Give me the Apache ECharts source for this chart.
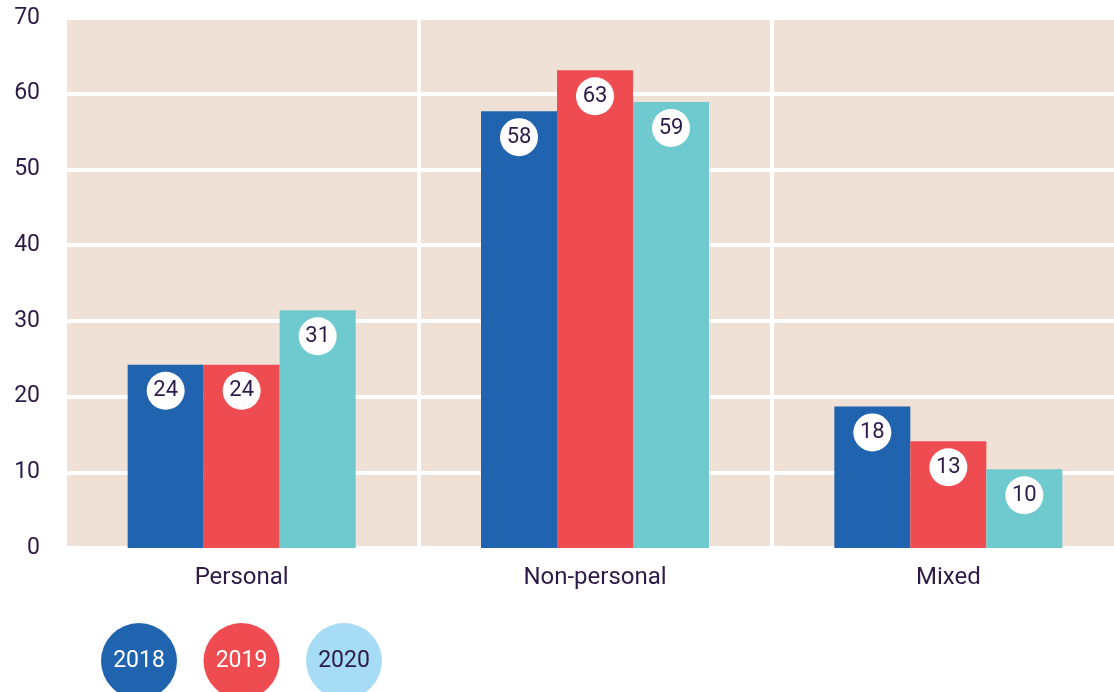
<!DOCTYPE html>
<html>
<head>
<meta charset="utf-8">
<script src="https://cdn.jsdelivr.net/npm/echarts@6/dist/echarts.min.js"></script>
<style>
html,body{margin:0;padding:0;background:#fff;}
#chart{width:1114px;height:692px;}
</style>
</head>
<body>
<div id="chart"></div>
<script>
// Data
const categories = ['Personal', 'Non-personal', 'Mixed'];
const years = ['2018', '2019', '2020'];
const values2018 = [24.2, 57.7, 18.7];
const values2019 = [24.2, 63.1, 14.1];
const values2020 = [31.4, 58.9, 10.4];
const labels2018 = ['24', '58', '18'];
const labels2019 = ['24', '63', '13'];
const labels2020 = ['31', '59', '10'];
const yTicks = [0, 10, 20, 30, 40, 50, 60, 70];

const TEXT = '#2e1a47';
const FONT = 'Roboto';
const barColors = ['#2064b0', '#ef4c51', '#6fcacf'];
const legendColors = ['#2064b0', '#ef4c51', '#a6dcf5'];
const legendText = ['#ffffff', '#ffffff', TEXT];

function makeSeries(name, vals, labs, color) {
  return {
    name: name,
    type: 'bar',
    data: vals,
    barWidth: 76,
    barGap: '0%',
    itemStyle: { color: color },
    label: {
      show: true,
      position: 'insideTop',
      distance: 7,
      formatter: function (p) { return labs[p.dataIndex]; },
      backgroundColor: '#ffffff',
      borderRadius: 19,
      width: 38,
      height: 38,
      lineHeight: 38,
      align: 'center',
      color: TEXT,
      fontFamily: FONT,
      fontSize: 22
    },
    emphasis: { disabled: true }
  };
}

const chart = echarts.init(document.getElementById('chart'));
chart.setOption({
  animation: false,
  backgroundColor: '#ffffff',
  grid: {
    left: 65, right: -11, top: 18, bottom: 144,
    containLabel: false,
    outerBoundsMode: 'none',
    show: true, backgroundColor: '#efe1d5', borderWidth: 0
  },
  xAxis: {
    type: 'category',
    data: categories,
    axisLine: { show: false },
    axisTick: { show: false },
    axisLabel: { color: TEXT, fontFamily: FONT, fontSize: 24, margin: 18 },
    splitLine: { show: true, lineStyle: { color: '#ffffff', width: 4 } }
  },
  yAxis: {
    type: 'value',
    min: 0, max: 70, interval: 10,
    axisLine: { show: false },
    axisTick: { show: false },
    axisLabel: {
      color: TEXT, fontFamily: FONT, fontSize: 23, margin: 25,
      padding: [0, 0, 5, 0],
      formatter: function (v) { return yTicks.indexOf(v) >= 0 ? String(v) : ''; }
    },
    splitLine: { show: true, lineStyle: { color: '#ffffff', width: 4 } }
  },
  series: [
    makeSeries(years[0], values2018, labels2018, barColors[0]),
    makeSeries(years[1], values2019, labels2019, barColors[1]),
    makeSeries(years[2], values2020, labels2020, barColors[2])
  ],
  graphic: years.map(function (y, i) {
    return {
      type: 'circle',
      shape: { cx: 139 + i * 102.5, cy: 661, r: 38 },
      style: { fill: legendColors[i] },
      textContent: {
        style: { text: y, fill: legendText[i], font: '23px ' + FONT }
      },
      textConfig: { position: 'inside' }
    };
  })
});
</script>
</body>
</html>
